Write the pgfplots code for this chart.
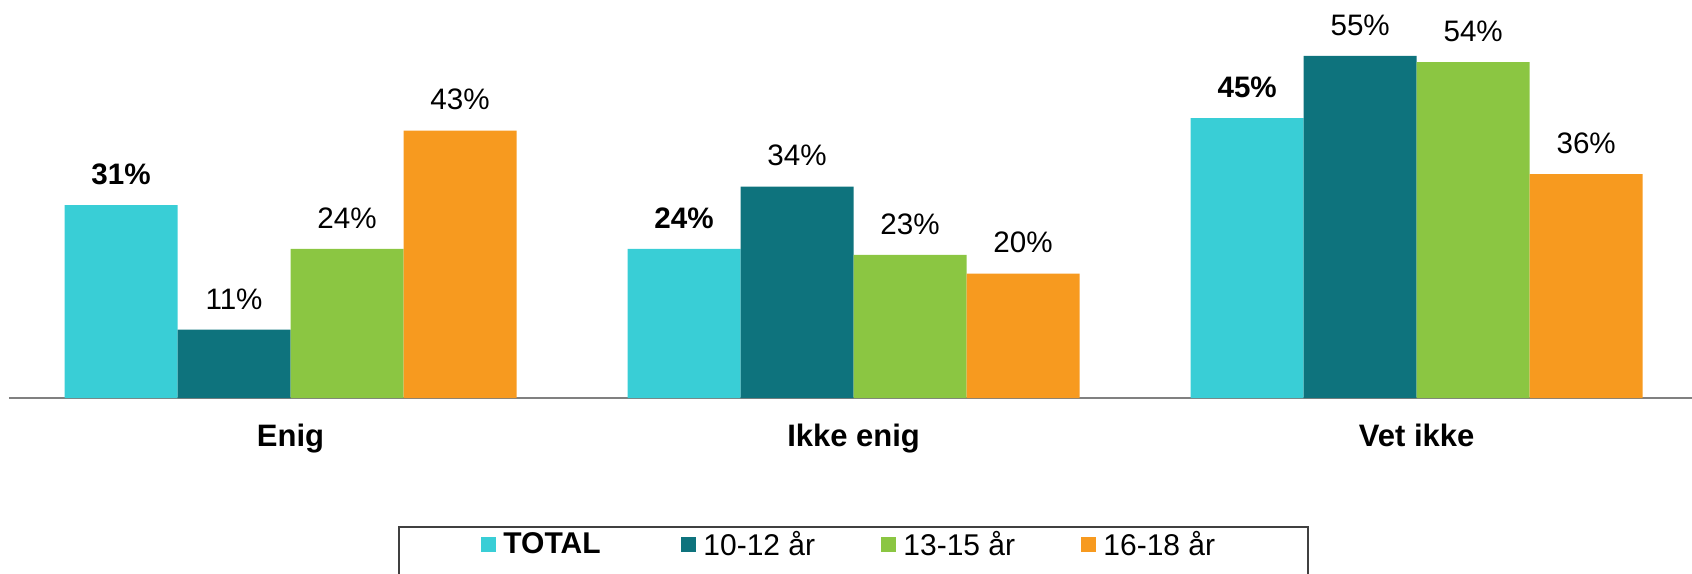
\documentclass[border=0pt]{standalone}
\usepackage{fontspec}
\setmainfont{Liberation Sans}
\usepackage{pgfplots}
\pgfplotsset{compat=1.18}
\definecolor{cTot}{HTML}{39CED6}
\definecolor{cA}{HTML}{0E737D}
\definecolor{cB}{HTML}{8BC642}
\definecolor{cC}{HTML}{F79A1F}
\begin{document}
\begin{tikzpicture}
\begin{axis}[
  at={(0pt,0pt)}, anchor=south west,
  scale only axis, width=841.5pt, height=199pt,
  xmin=-0.5, xmax=2.489, ymin=0, ymax=64,
  ybar=0pt, bar width=56.5pt,
  axis x line=bottom, axis y line=none,
  x axis line style={draw=gray, line width=1pt, -},
  xtick={0,1,2}, xticklabels={Enig,Ikke enig,Vet ikke},
  major tick length=0pt,
  xticklabel style={font=\fontsize{15.5}{18}\selectfont\bfseries, anchor=base, yshift=-24pt, inner sep=0pt},
  ytick=\empty,
  clip=false,
  /pgf/number format/assume math mode=true,
  nodes near coords={\pgfmathprintnumber{\pgfplotspointmeta}\%},
  every node near coord/.append style={font=\fontsize{14.8}{17}\selectfont, inner sep=0pt, yshift=10pt, anchor=south},
  legend columns=4,
  legend image code/.code={\fill[#1] (0pt,-3.75pt) rectangle (7.5pt,3.75pt);},
  legend style={draw=none, fill=none, at={(0.28045,-0.3693)}, anchor=west, inner sep=0pt,
    font=\fontsize{15}{18}\selectfont,
    /tikz/every odd column/.append style={column sep=3.5pt}, nodes={inner sep=0pt}},
]
\addplot[fill=cTot, draw=none, every node near coord/.append style={font=\fontsize{14.8}{17}\selectfont\bfseries}]
  coordinates {(0,31) (1,24) (2,45)};
\addlegendentry{\makebox[89pt][l]{\textbf{TOTAL}}}
\addplot[fill=cA, draw=none] coordinates {(0,11) (1,34) (2,55)};
\addlegendentry{\makebox[89pt][l]{10-12 år}}
\addplot[fill=cB, draw=none] coordinates {(0,24) (1,23) (2,54)};
\addlegendentry{\makebox[89pt][l]{13-15 år}}
\addplot[fill=cC, draw=none] coordinates {(0,43) (1,20) (2,36)};
\addlegendentry{\makebox[89pt][l]{16-18 år}}
\end{axis}
\draw[line width=0.9pt, black!75] (195pt,-64.5pt) rectangle (649.5pt,-110pt);
\pgfresetboundingbox
\useasboundingbox (-4.5pt,-87.5pt) rectangle (841.5pt,199pt);
\end{tikzpicture}
\end{document}
